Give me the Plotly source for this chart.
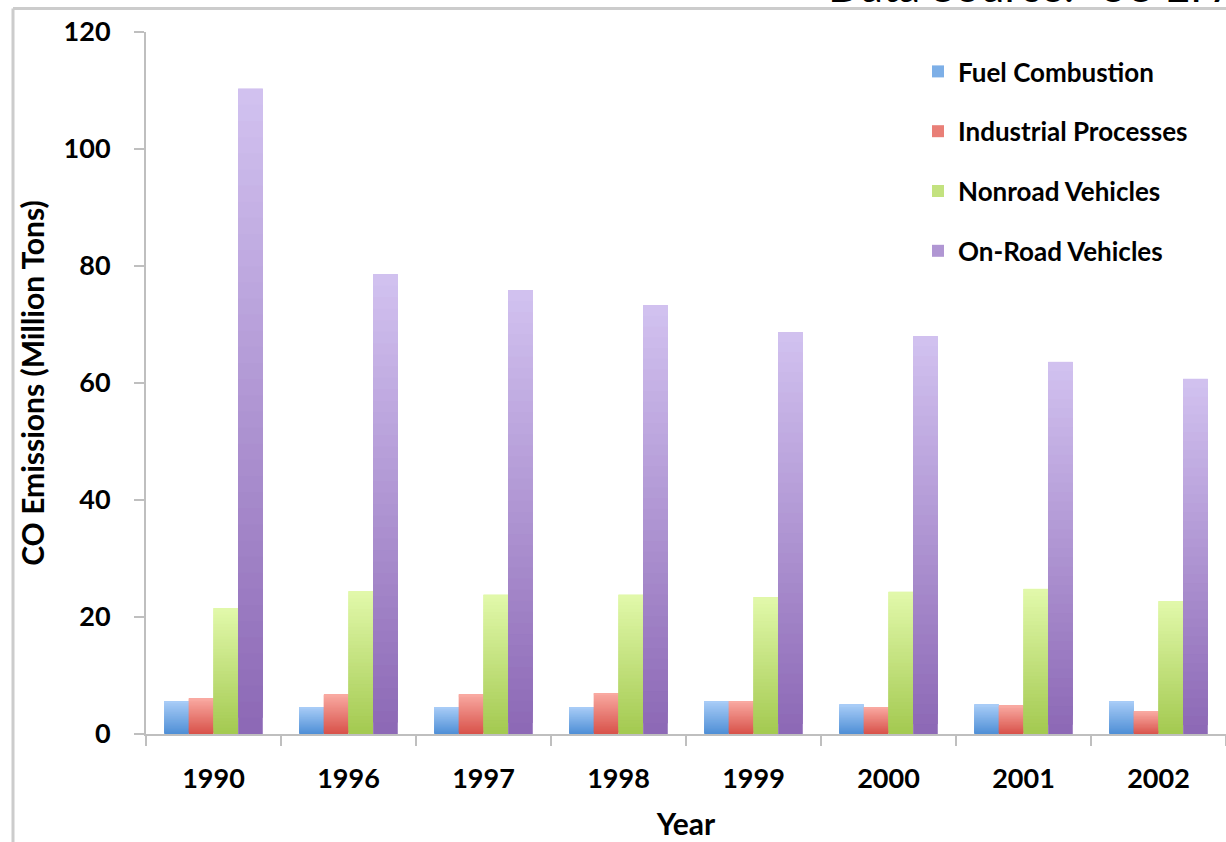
import plotly.graph_objects as go

# CO emissions by source category (million tons)
years = ["1990", "1996", "1997", "1998", "1999", "2000", "2001", "2002"]
fuel_combustion = [5.6, 4.6, 4.6, 4.6, 5.6, 5.0, 5.0, 5.6]
industrial_processes = [6.1, 6.7, 6.8, 7.0, 5.6, 4.6, 4.8, 3.9]
nonroad_vehicles = [21.5, 24.4, 23.8, 23.8, 23.4, 24.3, 24.8, 22.7]
onroad_vehicles = [110.3, 78.6, 75.9, 73.3, 68.7, 68.0, 63.6, 60.7]

series = [
    ("Fuel Combustion", fuel_combustion, "#4f8fd6", "#a9cdf7"),
    ("Industrial Processes", industrial_processes, "#d8524a", "#f9aaa2"),
    ("Nonroad Vehicles", nonroad_vehicles, "#a3c950", "#e2f9ab"),
    ("On-Road Vehicles", onroad_vehicles, "#8c68b5", "#d2c2f0"),
]

# page geometry (pixels)
W, H = 1226, 842
ML, MR, MT, MB = 146, 0, 32, 108
PW, PH = W - ML - MR, H - MT - MB

N_SLICES = 40
FONT = "Lato"


def hex_to_rgb(h):
    h = h.lstrip("#")
    return tuple(int(h[i:i + 2], 16) for i in (0, 2, 4))


def blend(c0, c1, t):
    a, b = hex_to_rgb(c0), hex_to_rgb(c1)
    return "rgb({},{},{})".format(*[round(a[i] + (b[i] - a[i]) * t) for i in range(3)])


fig = go.Figure()

# Each bar is built from stacked slices so it fades from dark at the base to
# light at the top; every slice reaches well into the next one, which is drawn
# over it, so no seams show between them.
for rank, (name, values, dark, light) in enumerate(series):
    for k in range(N_SLICES):
        t = (k + 0.5) / N_SLICES
        bases = [v * k / N_SLICES for v in values]
        heights = [min(3 * v / N_SLICES, v - b) for v, b in zip(values, bases)]
        fig.add_trace(go.Bar(
            x=years,
            y=heights,
            base=bases,
            name=name,
            offsetgroup=name,
            legendgroup=name,
            legendrank=rank + 1,
            showlegend=(k == N_SLICES // 2),
            marker=dict(color=blend(dark, light, t), line=dict(width=0)),
            hoverinfo="skip",
        ))

axis_grey = "#bfbfbf"

fig.update_layout(
    width=W, height=H,
    margin=dict(l=ML, r=MR, t=MT, b=MB, autoexpand=False),
    paper_bgcolor="white", plot_bgcolor="white",
    barmode="group", bargap=0.27, bargroupgap=0,
    font=dict(family=FONT, color="black"),
    showlegend=True,
    legend=dict(
        x=(918 - ML) / PW, y=(734 - 48) / PH, xanchor="left", yanchor="top",
        font=dict(family=FONT, size=26, color="black", weight="bold"),
        tracegroupgap=23, itemsizing="constant",
        bgcolor="rgba(0,0,0,0)",
    ),
    xaxis=dict(
        type="category", showgrid=False,
        showline=True, linecolor=axis_grey, linewidth=2,
        ticks="outside", tickson="boundaries", ticklen=10, tickwidth=2, tickcolor=axis_grey,
        tickfont=dict(family=FONT, size=27, weight="bold"),
        ticklabelstandoff=20,
        title=dict(text="Year", font=dict(family=FONT, size=30, weight="bold"), standoff=21),
        automargin=False,
    ),
    yaxis=dict(
        range=[0, 120], dtick=20, showgrid=False, zeroline=False,
        showline=True, linecolor=axis_grey, linewidth=2,
        ticks="outside", ticklen=10, tickwidth=2, tickcolor=axis_grey,
        tickfont=dict(family=FONT, size=27, weight="bold"),
        ticklabelstandoff=18,
        title=dict(text="CO Emissions (Million Tons)",
                   font=dict(family=FONT, size=30, weight="bold"), standoff=10),
        automargin=False,
    ),
)

# source credit along the top edge
fig.add_annotation(
    text="Data Source:\u00a0 US EPA", xref="paper", yref="paper",
    x=(826 - ML) / PW, y=(734 + 15) / PH, xanchor="left", yanchor="middle",
    showarrow=False, font=dict(family=FONT, size=44, color="black"),
)

# thin grey frame on the top and left
frame = dict(color="#cccccc", width=3)
fig.add_shape(type="line", xref="paper", yref="paper",
              x0=(13 - ML) / PW, x1=1.01, y0=(734 - 8.5) / PH, y1=(734 - 8.5) / PH, line=frame)
fig.add_shape(type="line", xref="paper", yref="paper",
              x0=(13 - ML) / PW, x1=(13 - ML) / PW, y0=(734 - 8.5) / PH, y1=(734 - 850) / PH, line=frame)

fig.write_html("out.html")
